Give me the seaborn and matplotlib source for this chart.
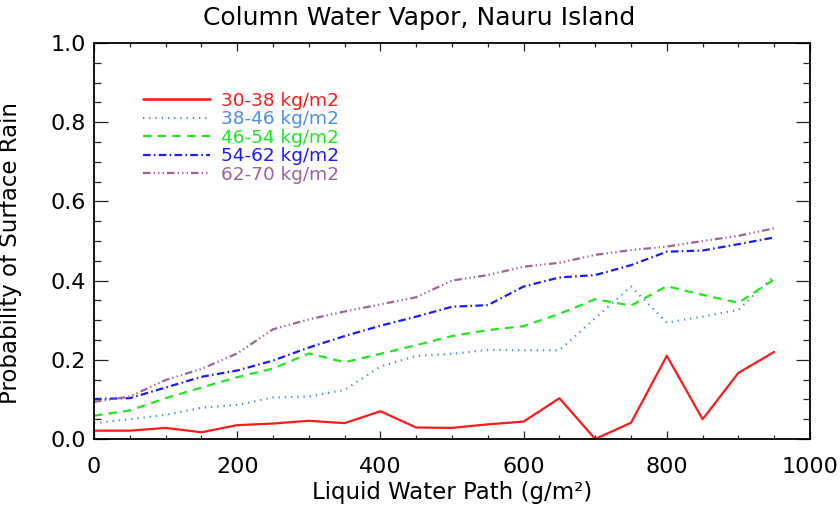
import numpy as np
import pandas as pd
import matplotlib
matplotlib.use("Agg")
import matplotlib.pyplot as plt
import seaborn as sns

# ---- data ----
lwp = [0, 50, 100, 150, 200, 250, 300, 350, 400, 450,
       500, 550, 600, 650, 700, 750, 800, 850, 900, 950]
series_names = ["30-38 kg/m2", "38-46 kg/m2", "46-54 kg/m2", "54-62 kg/m2", "62-70 kg/m2"]
p_30_38 = [0.021, 0.021, 0.028, 0.017, 0.035, 0.039, 0.046, 0.040, 0.070, 0.029,
           0.028, 0.037, 0.044, 0.103, 0.000, 0.041, 0.210, 0.050, 0.167, 0.220]
p_38_46 = [0.040, 0.050, 0.061, 0.079, 0.086, 0.105, 0.107, 0.124, 0.183, 0.210,
           0.215, 0.225, 0.224, 0.224, 0.305, 0.385, 0.294, 0.309, 0.326, 0.412]
p_46_54 = [0.059, 0.072, 0.103, 0.130, 0.156, 0.178, 0.216, 0.194, 0.215, 0.237,
           0.260, 0.275, 0.285, 0.316, 0.353, 0.337, 0.386, 0.364, 0.344, 0.403]
p_54_62 = [0.101, 0.103, 0.130, 0.157, 0.173, 0.198, 0.231, 0.260, 0.286, 0.309,
           0.334, 0.338, 0.385, 0.408, 0.414, 0.439, 0.473, 0.476, 0.492, 0.509]
p_62_70 = [0.094, 0.107, 0.149, 0.177, 0.216, 0.277, 0.302, 0.322, 0.340, 0.358,
           0.400, 0.414, 0.435, 0.445, 0.465, 0.477, 0.486, 0.500, 0.513, 0.532]
x_ticks = [0, 200, 400, 600, 800, 1000]
y_ticks = [0.0, 0.2, 0.4, 0.6, 0.8, 1.0]
y_tick_labels = ["0.0", "0.2", "0.4", "0.6", "0.8", "1.0"]

all_vals = [p_30_38, p_38_46, p_46_54, p_54_62, p_62_70]
df = pd.concat(
    [pd.DataFrame({"lwp": lwp, "prob": v, "cwv": n}) for n, v in zip(series_names, all_vals)],
    ignore_index=True,
)

colors = {
    "30-38 kg/m2": "#ff1a1a",
    "38-46 kg/m2": "#4a8fe6",
    "46-54 kg/m2": "#1ee81e",
    "54-62 kg/m2": "#1a1aff",
    "62-70 kg/m2": "#9a6494",
}
dashes = {
    "30-38 kg/m2": "",
    "38-46 kg/m2": (0.6, 2.2),
    "46-54 kg/m2": (3.8, 2.8),
    "54-62 kg/m2": (3.4, 1.5, 0.7, 1.5),
    "62-70 kg/m2": (3.4, 1.4, 0.6, 1.4, 0.6, 1.4, 0.6, 1.4),
}

sns.set_style("white")
plt.rcParams["font.family"] = ["DejaVu Sans"]
plt.rcParams["text.color"] = "black"
plt.rcParams["axes.labelcolor"] = "black"
plt.rcParams["xtick.color"] = "black"
plt.rcParams["ytick.color"] = "black"

fig = plt.figure(figsize=(8.4, 5.13), dpi=100)
ax = fig.add_axes([94 / 840, 1 - 439 / 513, 716 / 840, 396 / 513])

sns.lineplot(data=df, x="lwp", y="prob", hue="cwv", style="cwv",
             hue_order=series_names, style_order=series_names,
             palette=colors, dashes=dashes, linewidth=1.6, ax=ax, legend=True)
for line in ax.get_lines():
    if line.get_label() == "30-38 kg/m2":
        line.set_linewidth(1.9)

ax.set_xlim(0, 1000)
ax.set_ylim(0, 1.0)
ax.set_xticks(x_ticks)
ax.set_xticks(np.arange(0, 1001, 50), minor=True)
ax.set_yticks(y_ticks)
ax.set_yticklabels(y_tick_labels)
ax.set_yticks(np.arange(0, 1.001, 0.05), minor=True)

ax.tick_params(axis="x", which="major", direction="in", length=6, width=0.9,
               top=True, bottom=True, labelsize=16, pad=13, color="#222222",
               labelcolor="black")
ax.tick_params(axis="x", which="minor", direction="in", length=3, width=0.9,
               top=True, bottom=True, color="#222222")
ax.tick_params(axis="y", which="major", direction="in", length=10, width=0.9,
               left=True, right=True, labelsize=16, pad=6, color="#222222",
               labelcolor="black")
ax.tick_params(axis="y", which="minor", direction="in", length=5, width=0.9,
               left=True, right=True, color="#222222")
for s in ax.spines.values():
    s.set_linewidth(1.3)
    s.set_color("black")

ax.set_xlabel("Liquid Water Path (g/m²)", fontsize=16.5, color="black")
ax.set_ylabel("Probability of Surface Rain", fontsize=16.5, color="black")
ax.xaxis.set_label_coords(0.5, -0.105)
ax.yaxis.set_label_coords(-0.10, 0.47)

fig.text(419 / 840, 1 - 18 / 513, "Column Water Vapor, Nauru Island",
         fontsize=18, ha="center", va="center", color="black")

handles, labels = ax.get_legend_handles_labels()
leg = ax.legend(handles, labels, loc="upper left",
                bbox_to_anchor=(143 / 840, 1 - 91.5 / 513), bbox_transform=fig.transFigure,
                frameon=False, fontsize=13.3, handlelength=3.6, handletextpad=0.6,
                labelspacing=0.03, borderpad=0, borderaxespad=0, labelcolor="linecolor")

fig.savefig("out.png", dpi=100)
